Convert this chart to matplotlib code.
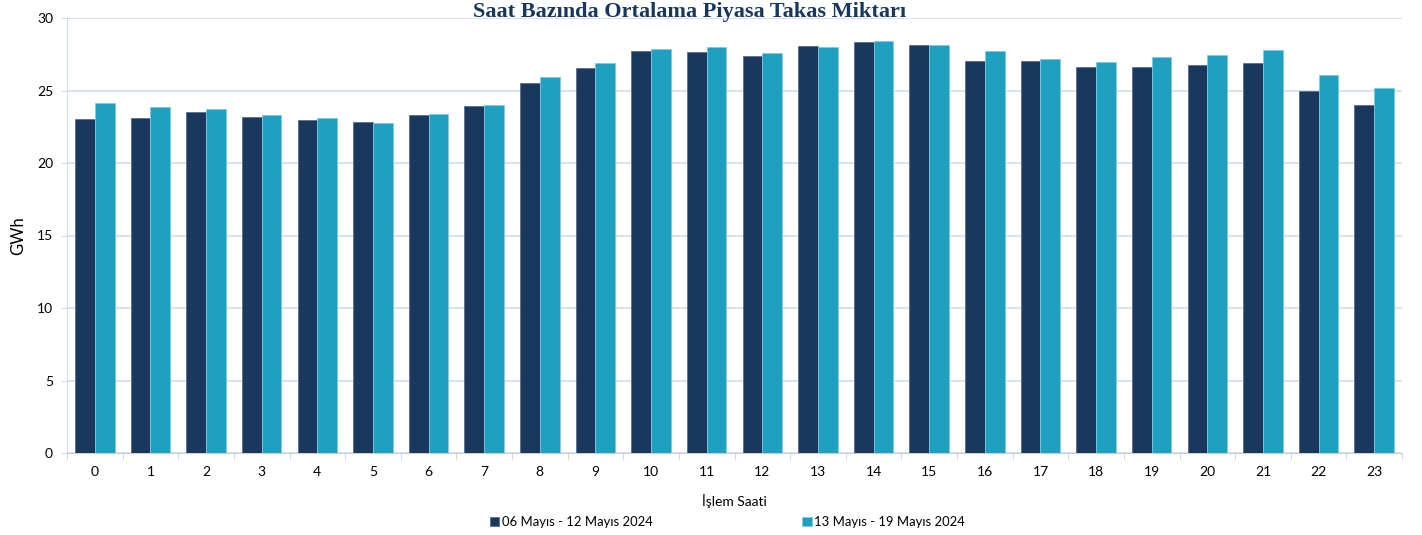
import matplotlib.pyplot as plt
import numpy as np

plt.rcParams['font.family'] = ['Lato', 'DejaVu Sans']

hours = list(range(24))
week1 = [23.05, 23.12, 23.49, 23.17, 22.97, 22.85, 23.29, 23.95, 25.54, 26.55, 27.75, 27.68,
         27.40, 28.05, 28.37, 28.14, 27.03, 27.01, 26.62, 26.60, 26.76, 26.90, 24.99, 24.02]
week2 = [24.14, 23.84, 23.72, 23.31, 23.10, 22.73, 23.36, 24.00, 25.93, 26.87, 27.86, 28.02,
         27.56, 27.98, 28.39, 28.12, 27.75, 27.19, 26.97, 27.29, 27.43, 27.79, 26.09, 25.19]
labels = ['06 Mayıs - 12 Mayıs 2024', '13 Mayıs - 19 Mayıs 2024']

dark = '#1a375e'
light = '#1fa0c0'

fig = plt.figure(figsize=(14.22, 5.35), dpi=100)
ax = fig.add_axes([67 / 1422, 1 - 453 / 535, 1335 / 1422, 435 / 535])

x = np.array(hours)
w = 0.355
ax.bar(x - w / 2, week1, w, color=dark, edgecolor='#5a6f8c', linewidth=0.6, label=labels[0], zorder=3)
ax.bar(x + w / 2, week2, w, color=light, edgecolor='#7fcbe0', linewidth=0.6, label=labels[1], zorder=3)

ax.set_xlim(-0.5, 23.5)
ax.set_ylim(0, 30)
ax.set_yticks(range(0, 31, 5))
ax.set_xticks(hours)
ax.set_xticks(np.arange(-0.5, 24, 1), minor=True)
ax.tick_params(axis='x', which='major', length=0, pad=9, labelsize=10)
ax.tick_params(axis='x', which='minor', length=4, color='#c8cfd8')
ax.tick_params(axis='y', length=4, color='#d0dcef', labelsize=10, pad=6)
ax.grid(axis='y', color='#d3ddee', linewidth=1.2, zorder=0)

for s in ['top', 'right']:
    ax.spines[s].set_visible(False)
ax.spines['left'].set_color('#d0dcef')
ax.spines['bottom'].set_color('#c8cfd8')

ax.set_ylabel('GWh', fontsize=12, labelpad=8)
ax.set_xlabel('İşlem Saati', fontsize=10, labelpad=12)

fig.text(0.485, 1 - 12 / 535, 'Saat Bazında Ortalama Piyasa Takas Miktarı', ha='center', va='center',
         fontsize=16, fontweight='bold', color='#17375e', family=['Liberation Serif', 'DejaVu Serif'])

fig.legend(loc='center', bbox_to_anchor=(0.5115, 1 - 522 / 535), ncol=2, frameon=False,
           fontsize=9.4, handlelength=0.7, handleheight=0.7, handletextpad=0.2, columnspacing=11.5)

fig.savefig('out.png', dpi=100)
